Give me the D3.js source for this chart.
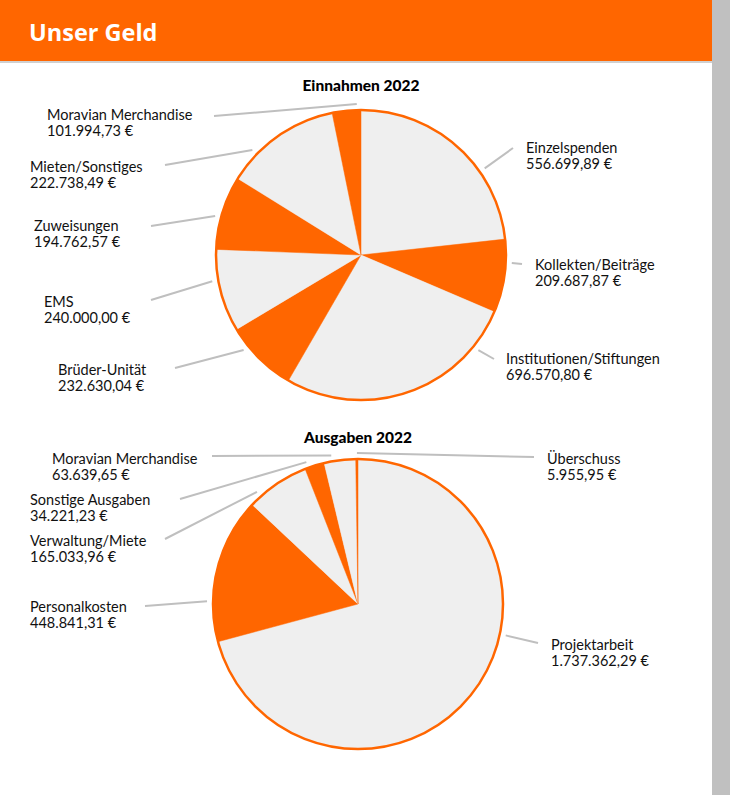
<!DOCTYPE html>
<html>
<head>
<meta charset="utf-8">
<script src="https://cdn.jsdelivr.net/npm/d3@7"></script>
<style>
  body { margin: 0; background: #fff; overflow: hidden; }
</style>
</head>
<body>
<div class="chart"></div>
<script>
// Einnahmen 2022
var incomeNames = ["Einzelspenden", "Kollekten/Beiträge", "Institutionen/Stiftungen", "Brüder-Unität",
                   "EMS", "Zuweisungen", "Mieten/Sonstiges", "Moravian Merchandise"];
var incomeValues = [556699.89, 209687.87, 696570.80, 232630.04, 240000.00, 194762.57, 222738.49, 101994.73];
// slice sizes as drawn in the picture (% of the pie)
var incomeShares = [23.25, 8.17, 26.92, 8.08, 9.19, 8.22, 12.97, 3.19];

// Ausgaben 2022
var costNames = ["Projektarbeit", "Personalkosten", "Verwaltung/Miete", "Sonstige Ausgaben",
                 "Moravian Merchandise", "Überschuss"];
var costValues = [1737362.29, 448841.31, 165033.96, 34221.23, 63639.65, 5955.95];
var costShares = [70.81, 16.19, 7.06, 2.19, 3.50, 0.25];

// label placement: text anchor [x, y], leader line angle on the pie (deg), leader outer end [x, y]
var incomeLabels = [
  { t: [526, 153], a: 55,  e: [513, 148] },
  { t: [535, 270], a: 93,  e: [522, 264] },
  { t: [506, 364], a: 129, e: [494, 359] },
  { t: [58, 375],  a: 231, e: [175, 368] },
  { t: [44, 307],  a: 260, e: [151, 300] },
  { t: [34, 231],  a: 285, e: [151, 226] },
  { t: [30, 172],  a: 314, e: [165, 165] },
  { t: [47, 120],  a: 358.4, e: [214, 116] }
];
var costLabels = [
  { t: [551, 650], a: 102, e: [538, 643] },
  { t: [30, 612],  a: 271, e: [145, 606] },
  { t: [30, 546],  a: 318, e: [165, 539] },
  { t: [30, 505],  a: 340, e: [180, 499] },
  { t: [52, 464],  a: 349.8, e: [212, 456] },
  { t: [547, 464], a: 359.6, e: [534, 457] }
];

var orange = "#ff6600", grey = "#efefef";
var de = d3.formatLocale({ decimal: ",", thousands: ".", grouping: [3], currency: ["", " €"] });
var fmt = de.format(",.2f");

var svg = d3.select(".chart").append("svg")
    .attr("width", 730)
    .attr("height", 795);

svg.append("rect").attr("x", 0).attr("y", 0).attr("width", 712).attr("height", 61).attr("fill", orange);
svg.append("rect").attr("x", 0).attr("y", 61).attr("width", 712).attr("height", 2).attr("fill", "#d0d0d0");
svg.append("rect").attr("x", 712).attr("y", 0).attr("width", 18).attr("height", 795).attr("fill", "#c0c0c0");

svg.append("text")
    .attr("x", 29)
    .attr("y", 41)
    .attr("font-family", "Open Sans")
    .attr("font-weight", "bold")
    .attr("font-size", 23.5)
    .attr("fill", "#fff")
    .text("Unser Geld");

function drawPie(cx, cy, r, title, titleY, names, values, shares, labels) {
  var pie = d3.pie().sort(null)(shares);
  var arc = d3.arc().innerRadius(0).outerRadius(r);
  var g = svg.append("g").attr("transform", "translate(" + cx + "," + cy + ")");

  g.selectAll("path.slice")
    .data(pie)
    .enter().append("path")
      .attr("class", "slice")
      .attr("d", arc)
      .attr("fill", function(d, i) { return i % 2 ? orange : grey; })
      .attr("stroke", function(d, i) { return i % 2 ? orange : grey; })
      .attr("stroke-width", 0.5);

  g.append("circle")
    .attr("r", r)
    .attr("fill", "none")
    .attr("stroke", orange)
    .attr("stroke-width", 2.5);

  svg.append("text")
    .attr("x", cx)
    .attr("y", titleY)
    .attr("text-anchor", "middle")
    .attr("font-family", "Lato")
    .attr("font-weight", 900)
    .attr("font-size", 15.5)
    .text(title);

  labels.forEach(function(l, i) {
    var ang = l.a * Math.PI / 180;
    svg.append("line")
      .attr("x1", cx + (r + 6) * Math.sin(ang))
      .attr("y1", cy - (r + 6) * Math.cos(ang))
      .attr("x2", l.e[0])
      .attr("y2", l.e[1])
      .attr("stroke", "#bfbfbf")
      .attr("stroke-width", 2);

    var t = svg.append("text")
      .attr("font-family", "Lato")
      .attr("font-size", 14.5)
      .attr("fill", "#111");
    t.append("tspan").attr("x", l.t[0]).attr("y", l.t[1]).text(names[i]);
    t.append("tspan").attr("x", l.t[0]).attr("y", l.t[1] + 16).text(fmt(values[i]) + " €");
  });
}

drawPie(361, 255, 145, "Einnahmen 2022", 91, incomeNames, incomeValues, incomeShares, incomeLabels);
drawPie(358, 604, 145, "Ausgaben 2022", 443, costNames, costValues, costShares, costLabels);
</script>
</body>
</html>
